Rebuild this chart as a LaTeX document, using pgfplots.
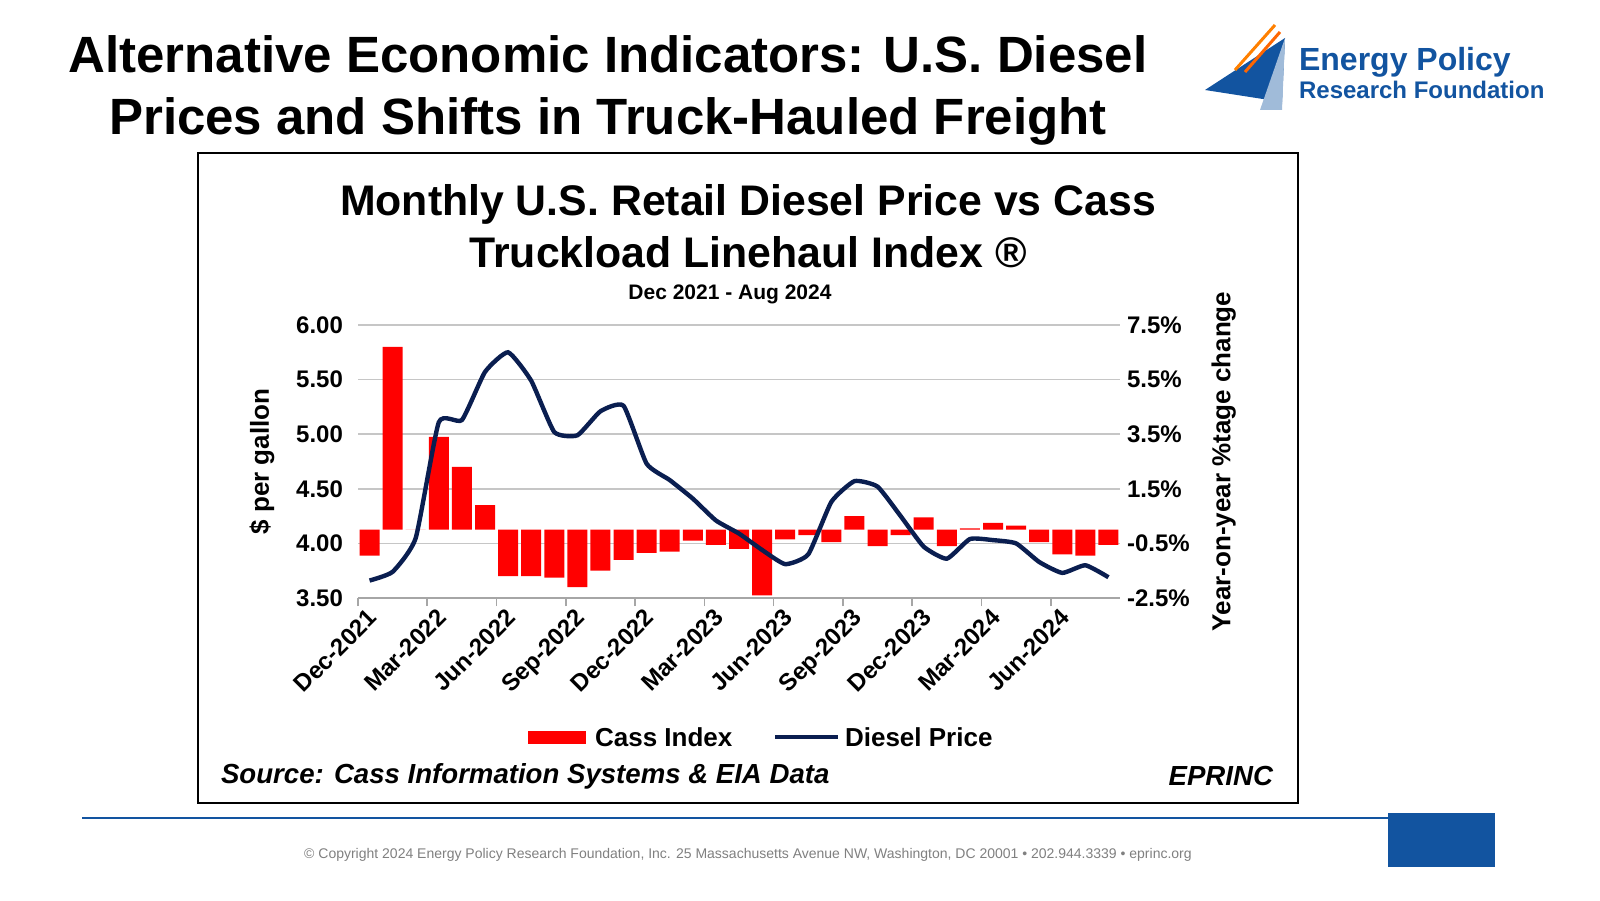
\documentclass[border=0pt]{standalone}
\usepackage{pgfplots}
\pgfplotsset{compat=1.18}
\usepackage{fontspec}
\setmainfont{Liberation Sans}
\definecolor{navy}{RGB}{10,30,80}
\definecolor{eblue}{RGB}{18,84,160}
\begin{document}
\begin{tikzpicture}[x=0.5pt,y=0.5pt]
\useasboundingbox (0,0) rectangle (1600,900);
\fill[white] (0,0) rectangle (1600,900);
\node[font=\bfseries\fontsize{25.5}{31}\selectfont,align=center] at (608,810) {Alternative Economic Indicators: U.S. Diesel\\Prices and Shifts in Truck-Hauled Freight};
% logo
\fill[eblue] (1205,810) -- (1285,862) -- (1282,798) -- cycle;
\fill[eblue!40] (1260,790) -- (1285,862) -- (1282,790) -- cycle;
\draw[orange,line width=1.5pt] (1235,830) -- (1275,875);
\draw[orange!80!red,line width=1.5pt] (1245,828) -- (1280,868);
\node[anchor=west,text=eblue,font=\bfseries\fontsize{16}{18}\selectfont] at (1292,838) {Energy Policy};
\node[anchor=west,text=eblue,font=\bfseries\fontsize{12}{13}\selectfont] at (1292,810) {Research Foundation};
\draw[line width=1.2pt] (198,97) rectangle (1298,747);
\node[font=\bfseries\fontsize{21.4}{26}\selectfont,align=center] at (748,674) {Monthly U.S. Retail Diesel Price vs Cass\\Truckload Linehaul Index ®};
\node[font=\bfseries\fontsize{10.5}{12}\selectfont] at (730,606) {Dec 2021 - Aug 2024};
\begin{axis}[at={(179pt,151pt)},anchor=south west,scale only axis,width=381pt,height=136.5pt,
  xmin=-0.5,xmax=32.5,ymin=3.5,ymax=6.0,
  ytick={3.5,4,4.5,5,5.5,6},
  yticklabel={\pgfmathprintnumber[fixed,fixed zerofill,precision=2]{\tick}},
  /pgf/number format/assume math mode=true,
  ymajorgrids,grid style={gray!45,line width=0.8pt},
  axis y line*=left,y axis line style={draw=none},ytick style={draw=none},
  axis x line*=bottom,x axis line style={gray!70,line width=0.8pt},
  xtick={-0.5,2.5,5.5,8.5,11.5,14.5,17.5,20.5,23.5,26.5,29.5},
  xticklabels={Dec-2021,Mar-2022,Jun-2022,Sep-2022,Dec-2022,Mar-2023,Jun-2023,Sep-2023,Dec-2023,Mar-2024,Jun-2024},
  xticklabel style={rotate=45,anchor=north east,font=\bfseries\fontsize{12}{14}\selectfont,xshift=6pt},
  yticklabel style={font=\bfseries\fontsize{12}{14}\selectfont},
  x tick style={gray!70,line width=0.8pt},tick align=outside,major tick length=4pt,
  ylabel={\$ per gallon},ylabel style={font=\bfseries\fontsize{13}{15}\selectfont,yshift=4pt},
  clip=false]
\end{axis}
\begin{axis}[at={(179pt,151pt)},anchor=south west,scale only axis,width=381pt,height=136.5pt,
  xmin=-0.5,xmax=32.5,ymin=-2.5,ymax=7.5,
  axis y line*=right,axis x line=none,y axis line style={draw=none},ytick style={draw=none},
  ytick={-2.5,-0.5,1.5,3.5,5.5,7.5},
  yticklabel={\pgfmathprintnumber[fixed,fixed zerofill,precision=1]{\tick}\%},
  /pgf/number format/assume math mode=true,
  yticklabel style={font=\bfseries\fontsize{12}{14}\selectfont},
  ylabel={Year-on-year \%tage change},ylabel style={font=\bfseries\fontsize{13}{15}\selectfont,yshift=-4pt},
  clip=false]
\addplot[ybar,bar width=10pt,fill=red,draw=none] coordinates {
(0,-0.95)(1,6.7)(2,0)(3,3.4)(4,2.3)(5,0.9)(6,-1.7)(7,-1.7)(8,-1.75)(9,-2.1)(10,-1.5)(11,-1.1)
(12,-0.85)(13,-0.8)(14,-0.4)(15,-0.55)(16,-0.7)(17,-2.4)(18,-0.35)(19,-0.2)(20,-0.45)(21,0.5)
(22,-0.6)(23,-0.2)(24,0.45)(25,-0.6)(26,0.05)(27,0.25)(28,0.15)(29,-0.45)(30,-0.9)(31,-0.95)(32,-0.55)};
\end{axis}
\begin{axis}[at={(179pt,151pt)},anchor=south west,scale only axis,width=381pt,height=136.5pt,
  xmin=-0.5,xmax=32.5,ymin=3.5,ymax=6.0,axis lines=none,clip=false]
\addplot[navy,line width=2.2pt,smooth,tension=0.3] coordinates {
(0,3.66)(1,3.74)(2,4.05)(3,5.11)(4,5.13)(5,5.57)(6,5.75)(7,5.49)(8,5.02)(9,4.99)(10,5.21)(11,5.26)
(12,4.73)(13,4.58)(14,4.41)(15,4.21)(16,4.09)(17,3.94)(18,3.81)(19,3.90)(20,4.38)(21,4.57)
(22,4.52)(23,4.25)(24,3.97)(25,3.86)(26,4.04)(27,4.03)(28,4.00)(29,3.83)(30,3.73)(31,3.80)(32,3.69)};
\end{axis}
% legend
\fill[red] (528,156) rectangle (586,169);
\node[anchor=west,font=\bfseries\fontsize{13}{15}\selectfont] at (588,163) {Cass Index};
\draw[navy,line width=2.2pt] (775,163) -- (838,163);
\node[anchor=west,font=\bfseries\fontsize{13}{15}\selectfont] at (838,163) {Diesel Price};
\node[anchor=west,font=\bfseries\itshape\fontsize{13.8}{15}\selectfont] at (214,124) {Source: Cass Information Systems \& EIA Data};
\node[anchor=east,font=\bfseries\itshape\fontsize{13.8}{15}\selectfont] at (1280,124) {EPRINC};
\draw[eblue,line width=1pt] (82,82) -- (1495,82);
\fill[eblue] (1388,33) rectangle (1495,87);
\node[text=gray,font=\fontsize{7}{8}\selectfont] at (748,45) {© Copyright 2024 Energy Policy Research Foundation, Inc. 25 Massachusetts Avenue NW, Washington, DC 20001 • 202.944.3339 • eprinc.org};
\end{tikzpicture}
\end{document}
